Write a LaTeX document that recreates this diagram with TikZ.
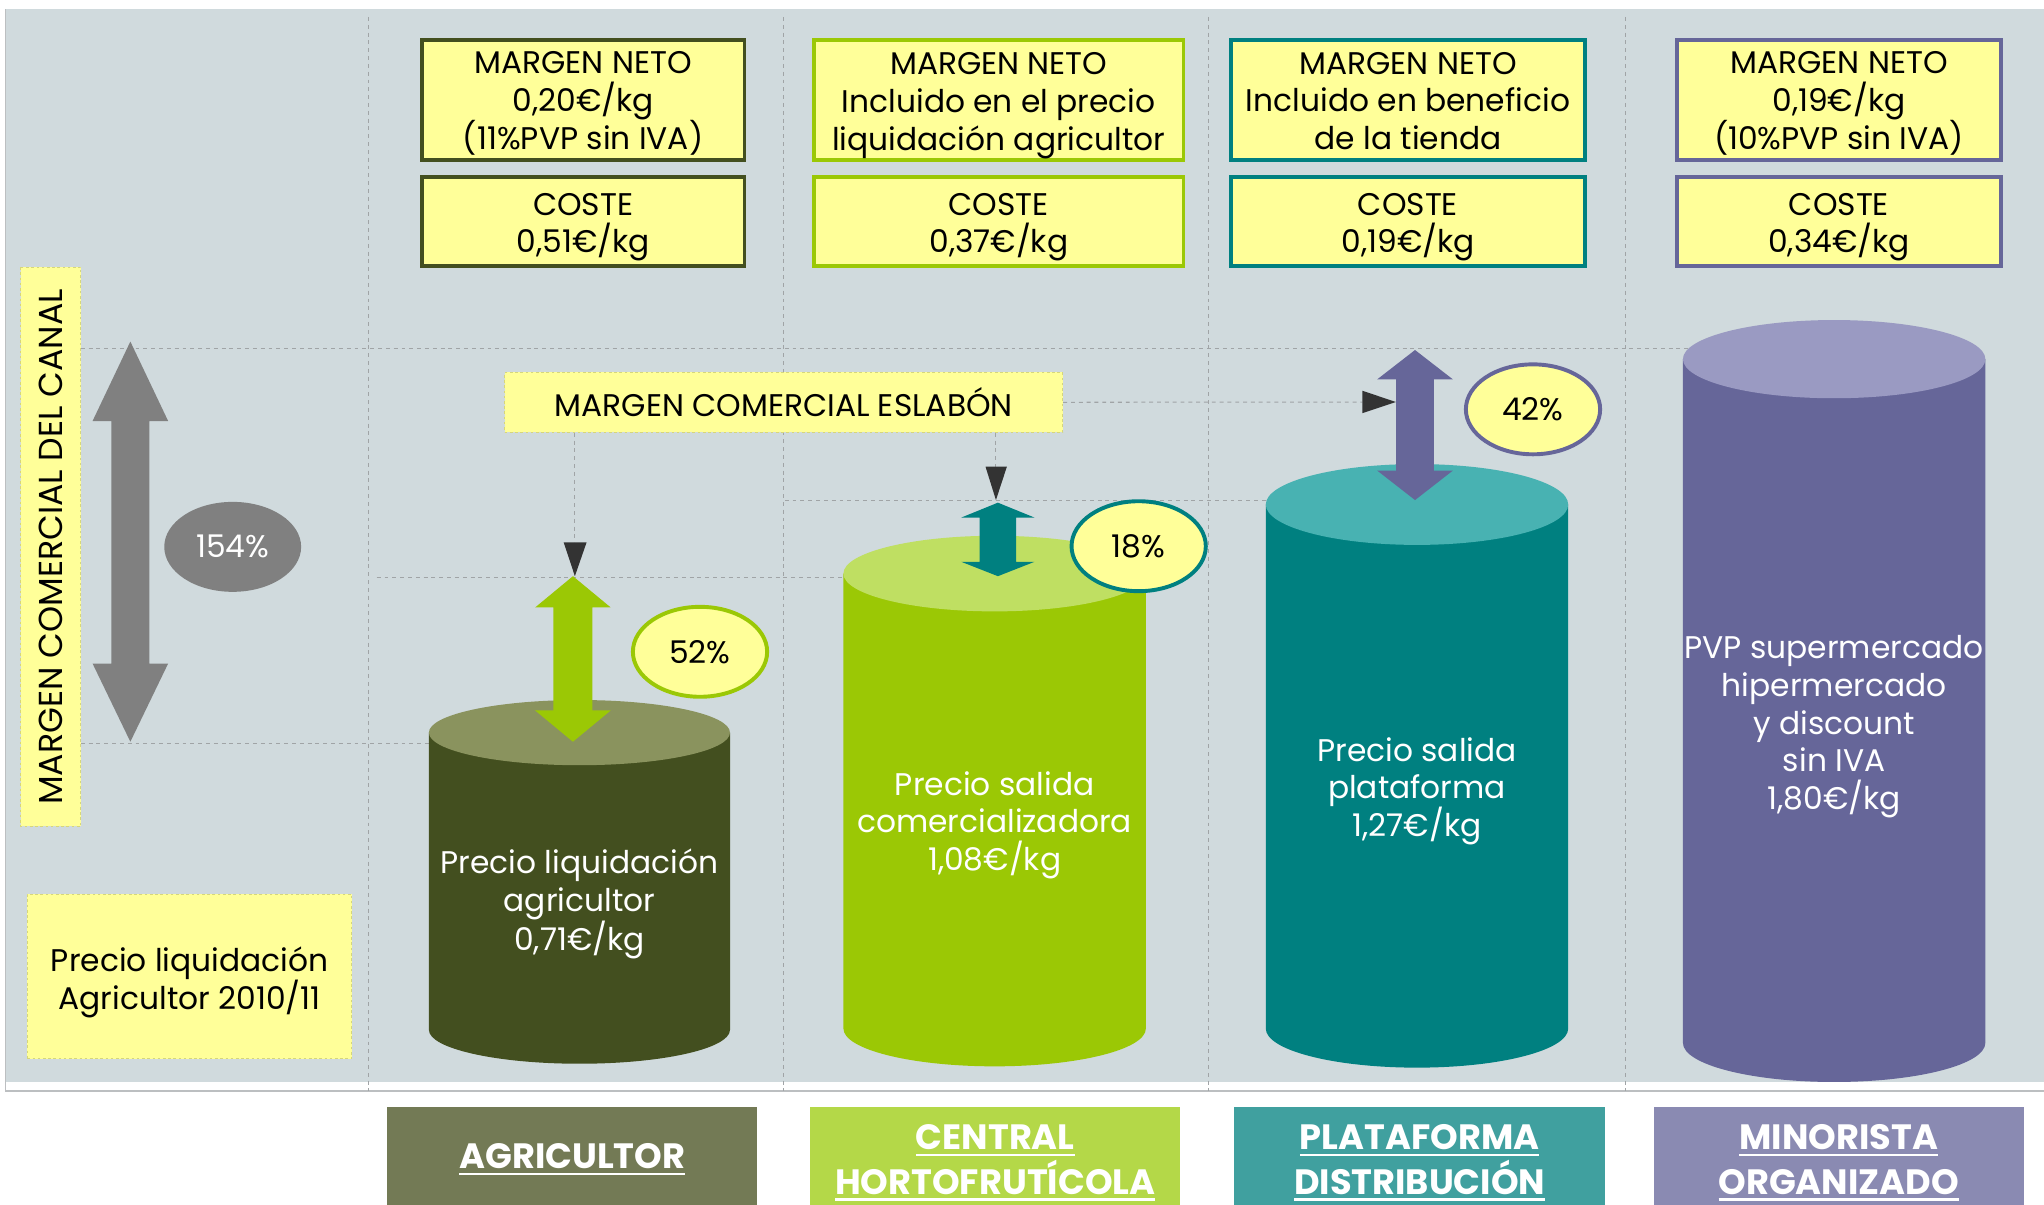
\documentclass[tikz,border=0pt]{standalone}
\usepackage{fontspec}
\setmainfont{Poppins}
\usetikzlibrary{shapes.geometric}
\definecolor{bgc}{HTML}{D0DADD}
\definecolor{yel}{HTML}{FFFF99}
\definecolor{ybord}{HTML}{D6D67A}
\definecolor{gridc}{HTML}{A0A4A6}
\definecolor{olive}{HTML}{434F1F}
\definecolor{olivetop}{HTML}{8A935E}
\definecolor{lime}{HTML}{9BC805}
\definecolor{limetop}{HTML}{BFDF62}
\definecolor{teal}{HTML}{008080}
\definecolor{tealtop}{HTML}{48B2B2}
\definecolor{purp}{HTML}{666699}
\definecolor{purptop}{HTML}{9A9AC2}
\definecolor{grayarr}{HTML}{808080}
\definecolor{darkc}{HTML}{333333}
\definecolor{lab1}{HTML}{737A55}
\definecolor{lab2}{HTML}{B4D848}
\definecolor{lab3}{HTML}{40A09F}
\definecolor{lab4}{HTML}{8A8AB2}
\newcommand\fs{\fontsize{24}{29}\selectfont}
\newcommand\fl{\fontsize{27}{34}\selectfont\bfseries}
\newcommand\ulb[1]{\setbox0\hbox{#1}\rlap{\lower3pt\hbox{\vrule width\wd0 height 0pt depth 2pt}}\box0}
\newcommand\cylinder[8]{%
  \fill[#7] (#1,#3) -- (#1,#5) arc[start angle=180, end angle=0, x radius={(#2-#1)/2}, y radius=#6] -- (#2,#3) -- cycle;
  \fill[#8] ({(#1+#2)/2},#3) ellipse[x radius={(#2-#1)/2}, y radius=#4];}
\newcommand\dblarrow[8]{%
  \fill[#8] (#1,#2) -- ({#1+#6},#3) -- ({#1+#7},#3) -- ({#1+#7},#4) -- ({#1+#6},#4) -- (#1,#5)
   -- ({#1-#6},#4) -- ({#1-#7},#4) -- ({#1-#7},#3) -- ({#1-#6},#3) -- cycle;}
\begin{document}
\begin{tikzpicture}[x=1pt,y=-1pt,
  grid/.style={draw=gridc, line width=0.8pt, dash pattern=on 3pt off 3pt},
  mbox/.style={draw=#1, line width=3pt, fill=yel, inner sep=0pt},
  btext/.style={align=center, inner sep=0pt, font=\fs},
  dbox/.style={draw=ybord, line width=0.8pt, dash pattern=on 2pt off 2pt, fill=yel, align=center, inner sep=0pt, font=\fs},
  pct/.style={ellipse, draw=#1, line width=3pt, fill=yel, minimum width=103pt, minimum height=69pt, inner sep=0pt, font=\fs},
  ctext/.style={text=white, align=center, font=\fs, inner sep=0pt},
  lab/.style={fill=#1, minimum width=284pt, minimum height=80pt, inner sep=0pt, anchor=north},
  labt/.style={text=white, align=center, font=\fl, inner sep=0pt}]
\useasboundingbox (0,0) rectangle (1568,924);
\fill[white] (0,0) rectangle (1568,924);
\fill[bgc] (4,7) rectangle (1568,830);
\draw[gridc!70, line width=1pt] (4,7) -- (4,837) -- (1568,837);
% grid
\foreach \gx in {283,601,927,1247} \draw[grid] (\gx,13) -- (\gx,837);
\draw[grid] (62,267) -- (1409,267);
\draw[grid] (62,570) -- (440,570);
\draw[grid] (289,443) -- (766,443);
\draw[grid] (602,384) -- (1087,384);
% cylinders
\cylinder{329}{560}{562}{25}{790}{26}{olive}{olivetop}
\cylinder{647}{879}{440}{29}{789}{29}{lime}{limetop}
\cylinder{971}{1203}{387}{31}{789}{30}{teal}{tealtop}
\cylinder{1291}{1523}{275.5}{30}{800}{30}{purp}{purptop}
\node[ctext] (c1) at (444.5,693.5) {Precio liquidación\\agricultor\\0,71€/kg};
\node[ctext] (c2) at (763,633) {Precio salida\\comercializadora\\1,08€/kg};
\node[ctext] (c3) at (1087,607) {Precio salida\\plataforma\\1,27€/kg};
\node[ctext] (c4) at (1407,557.5) {PVP supermercado\\hipermercado\\y discount\\sin IVA\\1,80€/kg};
% double arrows
\dblarrow{100}{262}{323}{509}{569}{29}{14.5}{grayarr}
\dblarrow{439.5}{442}{466}{545}{569}{29}{15}{lime}
\dblarrow{765.5}{385.6}{397}{431}{442}{28}{14}{teal}
\dblarrow{1085.5}{268.5}{291}{361}{383.6}{29}{14.5}{purp}
% left boxes
\node[dbox, minimum width=429pt, minimum height=46pt, rotate=90] (canal) at (39,419.5) {\fontsize{25.5}{29}\selectfont MARGEN COMERCIAL DEL CANAL};
\node[ellipse, fill=grayarr, minimum width=105pt, minimum height=69pt, inner sep=0pt, text=white, font=\fs] (p154) at (178.5,419.5) {154\%};
\node[dbox, minimum width=249pt, minimum height=126pt] (liq) at (145.5,749) {};
\node[btext] (liqt) at ([yshift=-4.5pt]liq.center) {Precio liquidación\\Agricultor 2010/11};
% eslabon
\node[dbox, minimum width=428pt, minimum height=46pt] (esl) at (601.2,308.6) {MARGEN COMERCIAL ESLABÓN};
\coordinate (ah1) at (441,416);
\coordinate (ah2) at (764,358);
\coordinate (ah3) at (1045,308.4);
\draw[grid] (esl.south -| ah1) -- (ah1);
\draw[grid] (esl.south -| ah2) -- (ah2);
\draw[grid] (esl.east) -- (ah3);
\fill[darkc] (432.4,416) -- (450,416) -- (441,442) -- cycle;
\fill[darkc] (756,358) -- (772.4,358) -- (764,383.6) -- cycle;
\fill[darkc] (1045,299.7) -- (1045,317) -- (1070.8,308.4) -- cycle;
% percent ellipses
\node[pct=lime] (p52) at (537,500) {52\%};
\node[pct=teal] (p18) at (873.5,419) {18\%};
\node[pct=purp] (p42) at (1176,314) {42\%};
% top boxes
\node[mbox=olive, minimum width=247.6pt, minimum height=92pt] (m1) at (447.3,77) {};
\node[mbox=olive, minimum width=247.6pt, minimum height=68pt] (k1) at (447.3,169.8) {};
\node[mbox=lime, minimum width=283.4pt, minimum height=92pt] (m2) at (766.2,77) {};
\node[mbox=lime, minimum width=283.4pt, minimum height=68pt] (k2) at (766.2,169.8) {};
\node[mbox=teal, minimum width=271.6pt, minimum height=92pt] (m3) at (1080.1,77) {};
\node[mbox=teal, minimum width=271.6pt, minimum height=68pt] (k3) at (1080.1,169.8) {};
\node[mbox=purp, minimum width=248.5pt, minimum height=92pt] (m4) at (1410.7,77) {};
\node[mbox=purp, minimum width=248.5pt, minimum height=68pt] (k4) at (1410.7,169.8) {};
\node[btext] (m1t) at ([yshift=-2.5pt]m1.center) {MARGEN NETO\\0,20€/kg\\(11\%PVP sin IVA)};
\node[btext] (k1t) at ([yshift=-4.5pt]k1.center) {COSTE\\0,51€/kg};
\node[btext] (m2t) at ([yshift=-4pt]m2.center) {MARGEN NETO\\Incluido en el precio\\liquidación agricultor};
\node[btext] (k2t) at ([yshift=-4.5pt]k2.center) {COSTE\\0,37€/kg};
\node[btext] (m3t) at ([yshift=-0.5pt]m3.center) {MARGEN NETO\\Incluido en beneficio\\de la tienda};
\node[btext] (k3t) at ([yshift=-4.5pt]k3.center) {COSTE\\0,19€/kg};
\node[btext] (m4t) at ([yshift=-2.5pt]m4.center) {MARGEN NETO\\0,19€/kg\\(10\%PVP sin IVA)};
\node[btext] (k4t) at ([yshift=-4.5pt]k4.center) {COSTE\\0,34€/kg};
% bottom labels
\node[lab=lab1] (l1) at (439,849) {};
\node[lab=lab2] (l2) at (763.5,849) {};
\node[lab=lab3] (l3) at (1089,849) {};
\node[lab=lab4] (l4) at (1410.5,849) {};
\node[labt] (t1) at (439,889.5) {\ulb{AGRICULTOR}};
\node[labt] (t2) at (763.5,892) {\ulb{CENTRAL}\\\ulb{HORTOFRUTÍCOLA}};
\node[labt] (t3) at (1089,892) {\ulb{PLATAFORMA}\\\ulb{DISTRIBUCIÓN}};
\node[labt] (t4) at (1410.5,892) {\ulb{MINORISTA}\\\ulb{ORGANIZADO}};
\end{tikzpicture}
\end{document}
